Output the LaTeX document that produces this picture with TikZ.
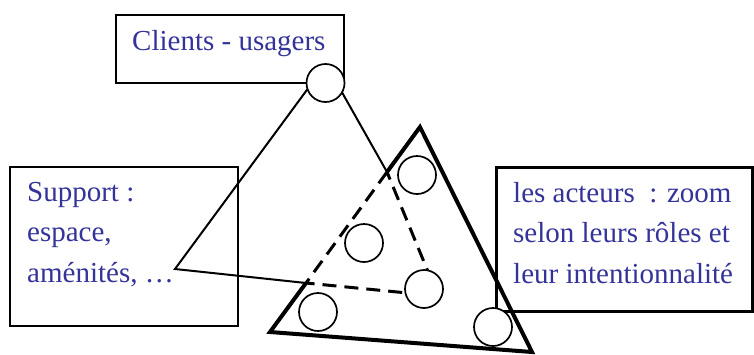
\documentclass[tikz,border=0pt]{standalone}
\usepackage{fontspec}
\setmainfont{Liberation Serif}
\definecolor{txtblue}{RGB}{51,51,153}
\tikzset{
  rond/.style={circle,draw,fill=white,line width=1.7pt,minimum size=38pt,inner sep=0pt},
  etiq/.style={text=txtblue,font=\fontsize{29}{40.5}\selectfont,inner sep=0pt,align=left}
}
\begin{document}
\begin{tikzpicture}[x=1pt,y=-1pt]
\useasboundingbox (0,0) rectangle (754,354);
% cadres
\draw[line width=2pt] (116,15) rectangle (344,83);
\node[etiq,anchor=base west] (clients) at (132,50) {Clients - usagers};
\draw[line width=2pt] (10,167) rectangle (238,326);
\node[etiq,anchor=north west] (support) at (27,182) {Support :\\espace,\\aménités, …};
\draw[line width=3pt] (496,167) rectangle (752,311);
\node[etiq,anchor=north west] (acteurs) at (513,182) {les acteurs\ \ : zoom\\selon leurs rôles et\\leur intentionnalité};

% sommets
\coordinate (apex) at (326,64);
\coordinate (supp) at (175,269);
\coordinate (dtop) at (387,172);
\coordinate (dleft) at (306,283);
\coordinate (dright) at (438,296);
\coordinate (ttop) at (420,127);
\coordinate (tleft) at (270,332);
\coordinate (tright) at (532,352);

\draw[line width=2pt] (apex) -- (dtop);
\draw[line width=2pt] (apex) -- (supp) -- (dleft);
\draw[line width=3pt,dash pattern=on 14pt off 8pt] (dtop) -- (dleft) -- (dright) -- cycle;

% acteurs
\node[rond] (cli) at (325.5,83) {};
\node[rond] (a1) at (417,175) {};
\node[rond] (a2) at (364,243) {};
\node[rond] (a3) at (424,289) {};
\node[rond] (a4) at (318,312) {};
\node[rond] (a5) at (493,327) {};

\draw[line width=4pt] (dtop) -- (ttop) -- (tright) -- (tleft) -- (dleft);
\end{tikzpicture}
\end{document}
